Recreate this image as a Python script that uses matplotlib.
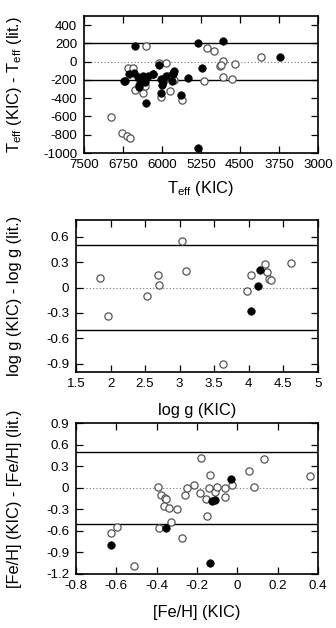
import matplotlib
matplotlib.use("Agg")
import matplotlib.pyplot as plt

plt.rcParams['font.family'] = ['Liberation Sans', 'DejaVu Sans']
plt.rcParams['mathtext.fontset'] = 'custom'
plt.rcParams['mathtext.rm'] = 'Liberation Sans'
plt.rcParams['mathtext.it'] = 'Liberation Sans:italic'

# ---- Panel 1: Teff ----
teff_open_x = [6309, 5138, 5009, 4096, 4590, 4829, 4893, 4860, 4829, 4656, 5189, 5917,
               6065, 5839, 6019, 5621, 6374, 6521, 6322, 6650, 6554, 6985, 6760, 6664,
               6606, 5892, 5762]
teff_open_y = [175, 149, 113, 47, -22, 4, -51, -40, -167, -189, -215, -15,
               -15, -316, -389, -425, -342, -313, -262, -73, -73, -604, -786, -815,
               -840, -160, -196]
teff_fill_x = [6515, 5299, 4829, 3735, 5235, 6065, 5505, 5627, 6019, 6309, 5312,
               6708, 6625, 6529, 6463, 6367, 6335, 6270, 6174, 6013, 5981, 5917, 5787,
               6420, 6728, 6438, 6451, 6181, 5795, 5762, 6000, 5814]
teff_fill_y = [167, 204, 222, 47, -69, -40, -178, -360, -342, -458, -942,
               -207, -134, -124, -171, -153, -226, -153, -134, -189, -226, -153, -134,
               -200, -215, -251, -276, -131, -123, -106, -251, -207]

# ---- Panel 2: log g ----
logg_open_x = [1.846, 1.966, 2.529, 2.688, 2.702, 3.038, 3.096, 3.625, 3.966, 4.024,
               4.236, 4.269, 4.288, 4.322, 4.606]
logg_open_y = [0.108, -0.336, -0.104, 0.144, 0.032, 0.548, 0.196, -0.904, -0.044, 0.144,
               0.28, 0.184, 0.096, 0.084, 0.288]
logg_fill_x = [4.159, 4.125, 4.024]
logg_fill_y = [0.204, 0.024, -0.28]

# ---- Panel 3: [Fe/H] ----
feh_open_x = [-0.628, -0.597, -0.512, -0.393, -0.380, -0.360, -0.352, -0.364, -0.340,
              -0.390, -0.329, -0.299, -0.274, -0.260, -0.248, -0.215, -0.187, -0.180,
              -0.157, -0.149, -0.137, -0.139, -0.112, -0.099, -0.061, -0.061, -0.028,
              0.058, 0.083, 0.134, 0.359]
feh_open_y = [-0.631, -0.551, -1.089, 0.009, -0.107, -0.140, -0.154, -0.257, -0.276,
              -0.556, -0.477, -0.290, -0.696, -0.098, -0.005, 0.042, -0.075, 0.416,
              -0.154, -0.397, 0.178, -0.005, -0.056, 0.009, -0.005, -0.126, 0.042,
              0.234, 0.009, 0.402, 0.164]
feh_fill_x = [-0.628, -0.355, -0.137, -0.124, -0.111, -0.030]
feh_fill_y = [-0.794, -0.556, -1.047, -0.187, -0.164, 0.117]

W, H = 336, 628
fig = plt.figure(figsize=(W / 100, H / 100), dpi=100)

def add_axes(l, r, t, b):
    return fig.add_axes([l / W, 1 - b / H, (r - l) / W, (b - t) / H])

TICK_FS = 9.6
LAB_FS = 11.8

def style(ax, xlim, ylim, xticks, yticks, xlabels, ylabels, band, l, r, t, b, xl, yl):
    ax.set_xlim(*xlim)
    ax.set_ylim(*ylim)
    ax.set_xticks(xticks)
    ax.set_yticks(yticks)
    ax.set_xticklabels(xlabels)
    ax.set_yticklabels(ylabels)
    ax.tick_params(direction='in', length=5, width=0.9, top=True, right=True,
                   labelsize=TICK_FS, color='black')
    ax.tick_params(axis='x', pad=4)
    ax.tick_params(axis='y', pad=5)
    for s in ax.spines.values():
        s.set_linewidth(1.2)
    ax.axhline(band, color='black', lw=1.0, zorder=1)
    ax.axhline(-band, color='black', lw=1.0, zorder=1)
    ax.axhline(0, color='#777777', lw=0.8, ls=(0, (1, 2)), zorder=1)
    # labels
    ax.set_xlabel(xl, fontsize=LAB_FS)
    ax.set_ylabel(yl, fontsize=LAB_FS)
    return ax

def pts(ax, ox, oy, fx, fy):
    ax.plot(ox, oy, 'o', ms=5.2, mfc='white', mec='#555555', mew=0.9, ls='none', zorder=3)
    ax.plot(fx, fy, 'o', ms=5.4, mfc='black', mec='black', mew=0.5, ls='none', zorder=4)

# Panel 1
ax1 = add_axes(84, 318, 16, 153)
yt1 = [-1000, -800, -600, -400, -200, 0, 200, 400]
xt1 = [7500, 6750, 6000, 5250, 4500, 3750, 3000]
style(ax1, (7500, 3000), (-1000, 500), xt1, yt1, [str(v) for v in xt1], [str(v) for v in yt1],
      200, 84, 318, 16, 153,
      r'T$_{\rm eff}$ (KIC)', r'T$_{\rm eff}$ (KIC) - T$_{\rm eff}$ (lit.)')
pts(ax1, teff_open_x, teff_open_y, teff_fill_x, teff_fill_y)
ax1.xaxis.set_label_coords(0.5, -(188 - 153) / 137)
ax1.xaxis.label.set_va('center')
ax1.yaxis.set_label_coords((15 - 84) / 234, 0.5)
ax1.yaxis.label.set_va('center')

# Panel 2
ax2 = add_axes(76, 318, 220, 372)
yt2 = [-0.9, -0.6, -0.3, 0, 0.3, 0.6]
xt2 = [1.5, 2, 2.5, 3, 3.5, 4, 4.5, 5]
style(ax2, (1.5, 5), (-1.0, 0.8), xt2, yt2, ['1.5', '2', '2.5', '3', '3.5', '4', '4.5', '5'],
      ['-0.9', '-0.6', '-0.3', '0', '0.3', '0.6'], 0.5, 76, 318, 220, 372,
      'log g (KIC)', 'log g (KIC) - log g (lit.)')
pts(ax2, logg_open_x, logg_open_y, logg_fill_x, logg_fill_y)
ax2.xaxis.set_label_coords(0.5, -(410 - 372) / 152)
ax2.xaxis.label.set_va('center')
ax2.yaxis.set_label_coords((14 - 76) / 242, 0.5)
ax2.yaxis.label.set_va('center')

# Panel 3
ax3 = add_axes(76, 318, 423, 574)
yt3 = [-1.2, -0.9, -0.6, -0.3, 0, 0.3, 0.6, 0.9]
xt3 = [-0.8, -0.6, -0.4, -0.2, 0, 0.2, 0.4]
style(ax3, (-0.8, 0.4), (-1.2, 0.9), xt3, yt3,
      ['-0.8', '-0.6', '-0.4', '-0.2', '0', '0.2', '0.4'],
      ['-1.2', '-0.9', '-0.6', '-0.3', '0', '0.3', '0.6', '0.9'], 0.5, 76, 318, 423, 574,
      '[Fe/H] (KIC)', '[Fe/H] (KIC) - [Fe/H] (lit.)')
pts(ax3, feh_open_x, feh_open_y, feh_fill_x, feh_fill_y)
ax3.xaxis.set_label_coords(0.5, -(612 - 574) / 151)
ax3.xaxis.label.set_va('center')
ax3.yaxis.set_label_coords((14 - 76) / 242, 0.5)
ax3.yaxis.label.set_va('center')

fig.savefig('out.png', dpi=100)
